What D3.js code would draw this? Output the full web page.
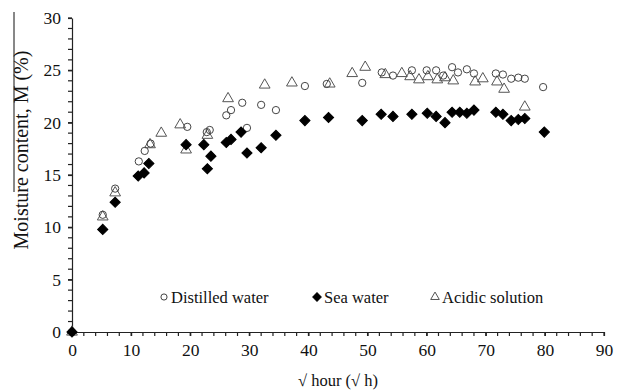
<!DOCTYPE html>
<html><head><meta charset="utf-8">
<script src="https://cdn.jsdelivr.net/npm/d3@7"></script>
<style>body{margin:0;background:#fff}svg{display:block}text{font-family:"Liberation Serif","DejaVu Serif",serif;fill:#111}</style>
</head><body><div id="c"></div>
<script>
const xTicks=[0,10,20,30,40,50,60,70,80,90];
const yTicks=[0,5,10,15,20,25,30];
const seriesNames=["Distilled water","Sea water","Acidic solution"];
const distilled=[[0,0],[5.2,11.2],[7.3,13.7],[11.3,16.3],[12.3,17.3],[13.3,18.0],[19.5,19.6],[22.8,19.1],[23.3,19.3],[26.1,20.7],[26.9,21.2],[28.8,21.9],[29.6,19.5],[32.0,21.7],[34.5,21.2],[39.4,23.5],[43.1,23.7],[49.1,23.8],[52.4,24.8],[54.3,24.5],[57.5,25.0],[60.0,25.0],[61.6,25.0],[62.8,24.5],[64.3,25.3],[65.3,24.8],[66.8,25.1],[68.0,24.7],[71.7,24.7],[72.9,24.6],[74.3,24.2],[75.5,24.3],[76.6,24.2],[79.7,23.4]];
const sea=[[0,0],[5.2,9.8],[7.3,12.4],[11.2,14.9],[12.2,15.2],[13.0,16.1],[19.3,17.9],[22.3,17.9],[22.9,15.6],[23.5,16.8],[26.1,18.1],[26.9,18.4],[28.6,19.1],[29.6,17.1],[32.0,17.6],[34.5,18.8],[39.4,20.2],[43.4,20.5],[49.1,20.2],[52.3,20.8],[54.3,20.6],[57.5,20.8],[60.1,20.9],[61.6,20.6],[63.1,20.0],[64.3,21.0],[65.6,21.0],[66.8,20.9],[68.0,21.2],[71.7,21.0],[72.9,20.8],[74.3,20.2],[75.5,20.3],[76.6,20.4],[79.9,19.1]];
const acidic=[[0,0],[5.2,11.0],[7.3,13.3],[13.2,17.9],[15.1,19.0],[18.3,19.8],[19.3,17.4],[22.9,18.8],[26.4,22.3],[32.6,23.6],[37.2,23.8],[43.6,23.7],[47.4,24.7],[49.6,25.3],[53.0,24.6],[55.8,24.7],[57.2,24.4],[58.7,24.1],[60.2,24.4],[61.8,24.1],[63.1,24.3],[64.5,24.0],[68.2,23.9],[69.5,24.2],[71.9,23.9],[73.1,23.2],[76.6,21.5]];

const W=632,H=392;
const svg=d3.select("#c").append("svg").attr("width",W).attr("height",H);
const x=d3.scaleLinear().domain([0,90]).range([72,604]);
const y=d3.scaleLinear().domain([0,30]).range([332,18]);

const xMinor=d3.range(0,91,2), yMinor=d3.range(0,31,1);
svg.append("g").selectAll("line").data(xMinor).join("line")
 .attr("x1",d=>x(d)).attr("x2",d=>x(d)).attr("y1",y(0)).attr("y2",y(0)+4).attr("stroke","#222").attr("stroke-width",1.2);
svg.append("g").selectAll("line").data(yMinor).join("line")
 .attr("y1",d=>y(d)).attr("y2",d=>y(d)).attr("x1",x(0)-4).attr("x2",x(0)).attr("stroke","#222").attr("stroke-width",1.2);

const xa=svg.append("g").attr("transform",`translate(0,${y(0)})`)
 .call(d3.axisBottom(x).tickValues(xTicks).tickSize(4).tickSizeOuter(0).tickPadding(8));
const ya=svg.append("g").attr("transform",`translate(${x(0)},0)`)
 .call(d3.axisLeft(y).tickValues(yTicks).tickSize(4).tickSizeOuter(0).tickPadding(7));
[xa,ya].forEach(a=>{a.attr("font-family",null).attr("font-size",null);
 a.selectAll("text").style("font-family","'Liberation Serif',serif").style("font-size","17.5px").attr("fill","#111");
 a.selectAll("line,path").attr("stroke","#222").attr("stroke-width",1.2);});

svg.append("text").attr("x",338).attr("y",386).attr("text-anchor","middle").style("font-size","16.5px").text("√ hour (√ h)");
svg.append("text").attr("transform","translate(28,150) rotate(-90)").attr("text-anchor","middle").style("font-size","20px").text("Moisture content, M (%)");
svg.append("line").attr("x1",14).attr("x2",14).attr("y1",12).attr("y2",192).attr("stroke","#111").attr("stroke-width",1);

const circ=d3.symbol().type(d3.symbolCircle).size(42);
const sq=d3.symbol().type(d3.symbolSquare).size(52);
const tri=d3.symbol().type(d3.symbolTriangle).size(50);

function draw(data,sym,fill,stroke,rot){
 svg.append("g").selectAll("path").data(data).join("path")
  .attr("d",sym).attr("transform",d=>`translate(${x(d[0])},${y(d[1])}) rotate(${rot})`)
  .attr("fill",fill).attr("stroke",stroke).attr("stroke-width",1);
}
draw(acidic,tri,"none","#555",0);
draw(distilled,circ,"none","#444",0);
draw(sea,sq,"#000","#000",45);

const leg=[[164,d3.symbolCircle,30,"none","#444",0,seriesNames[0]],[317,d3.symbolSquare,36,"#000","#000",45,seriesNames[1]],[435,d3.symbolTriangle,32,"none","#555",0,seriesNames[2]]];
leg.forEach(l=>{
 svg.append("path").attr("d",d3.symbol().type(l[1]).size(l[2])())
  .attr("transform",`translate(${l[0]},297) rotate(${l[5]})`).attr("fill",l[3]).attr("stroke",l[4]);
 svg.append("text").attr("x",l[0]+7).attr("y",302.5).style("font-size","16.5px").text(l[6]);
});
</script></body></html>
